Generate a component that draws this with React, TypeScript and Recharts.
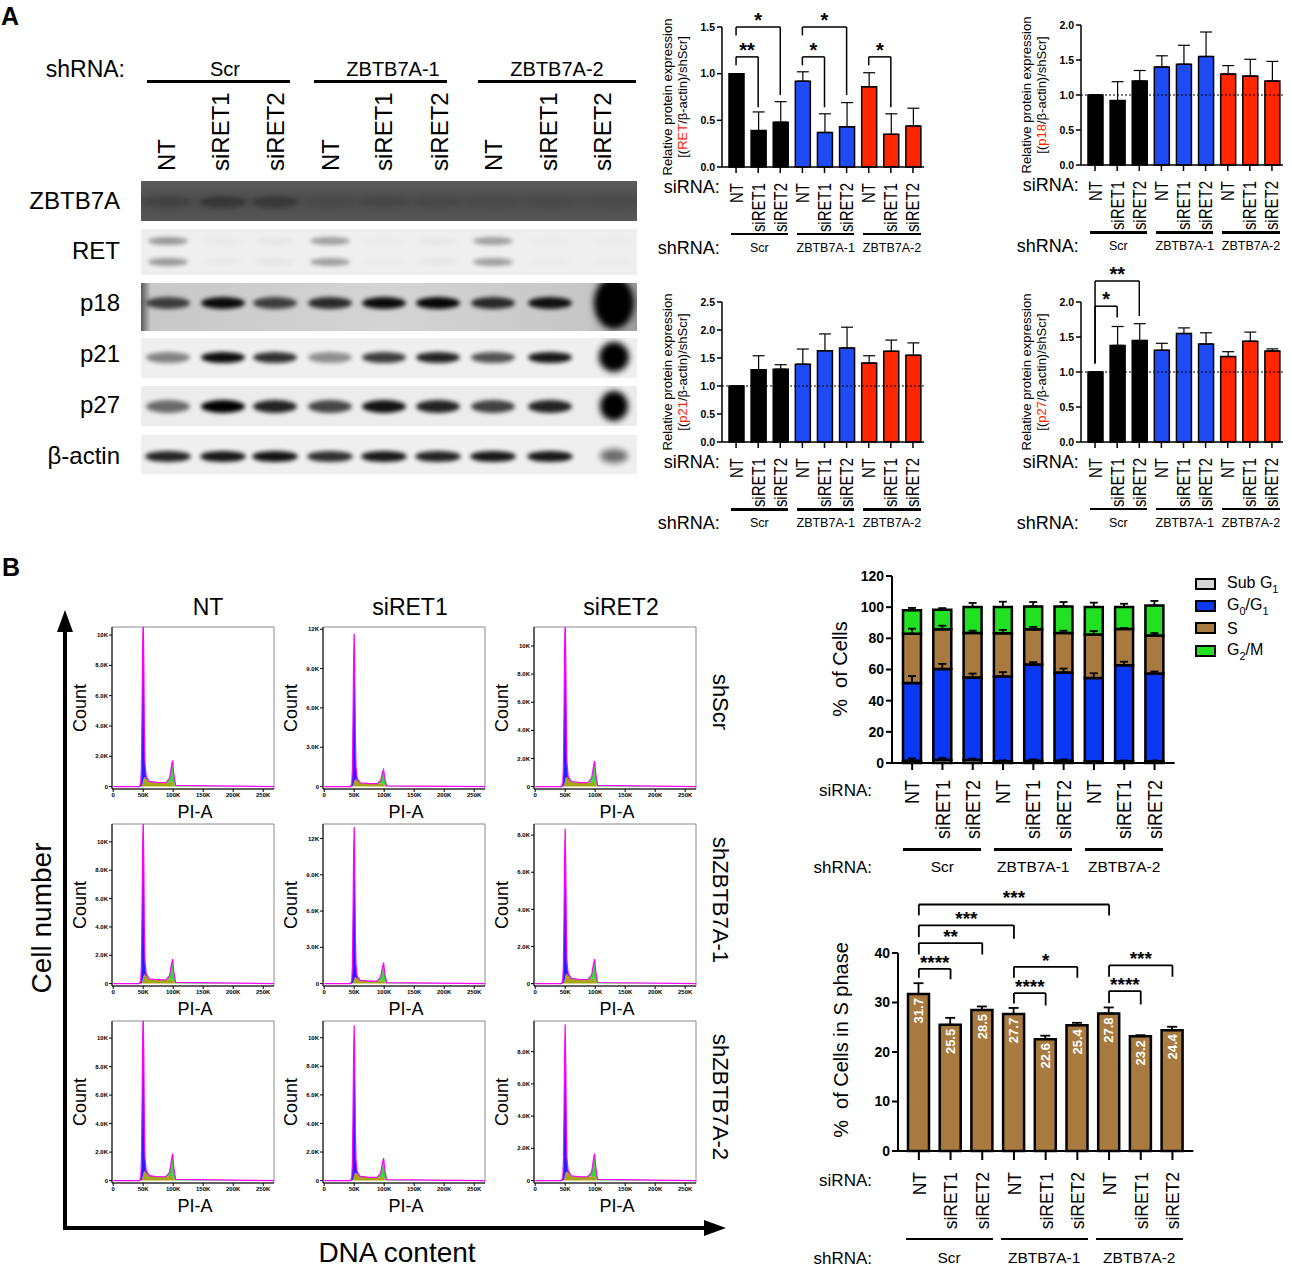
import React from 'react'
import {
  BarChart, Bar, XAxis, YAxis, ErrorBar, ReferenceLine, Cell, LabelList,
  AreaChart, Area, ReferenceArea,
} from 'recharts'

const FONT = '"Liberation Sans", Arial, Helvetica, sans-serif'

// categories
const siRNA = ['NT', 'siRET1', 'siRET2', 'NT', 'siRET1', 'siRET2', 'NT', 'siRET1', 'siRET2']
const shRNA = ['Scr', 'ZBTB7A-1', 'ZBTB7A-2']
const catKeys = ['c0', 'c1', 'c2', 'c3', 'c4', 'c5', 'c6', 'c7', 'c8']
const groupColors = ['#000000', '#1f4bf5', '#ff2600']

// A: western blot, band strength per lane (0..1)
const blotNames = ['ZBTB7A', 'RET', 'p18', 'p21', 'p27', 'β-actin']
const bandZBTB7A = [0.25, 0.55, 0.5, 0.06, 0.12, 0.1, 0.05, 0.06, 0.05]
const bandRET = [0.65, 0.04, 0.06, 0.6, 0.03, 0.05, 0.6, 0.03, 0.03]
const bandP18 = [0.7, 0.95, 0.7, 0.8, 0.95, 0.97, 0.8, 0.92, 1]
const bandP21 = [0.45, 0.95, 0.8, 0.4, 0.75, 0.85, 0.65, 0.9, 1]
const bandP27 = [0.55, 1, 0.85, 0.7, 0.92, 0.85, 0.72, 0.85, 1]
const bandActin = [0.85, 0.9, 0.92, 0.8, 0.9, 0.85, 0.9, 0.9, 0.55]

// A: quantification (mean, SD)
const retMean = [1.0, 0.39, 0.48, 0.92, 0.37, 0.43, 0.86, 0.35, 0.44]
const retSd = [0, 0.2, 0.22, 0.1, 0.2, 0.26, 0.15, 0.22, 0.19]
const p18Mean = [1.0, 0.92, 1.2, 1.4, 1.44, 1.55, 1.3, 1.27, 1.2]
const p18Sd = [0, 0.27, 0.15, 0.16, 0.27, 0.35, 0.12, 0.24, 0.28]
const p21Mean = [1.0, 1.29, 1.3, 1.39, 1.63, 1.68, 1.41, 1.62, 1.55]
const p21Sd = [0, 0.25, 0.08, 0.27, 0.3, 0.37, 0.13, 0.2, 0.22]
const p27Mean = [1.0, 1.38, 1.45, 1.31, 1.55, 1.4, 1.22, 1.44, 1.3]
const p27Sd = [0, 0.27, 0.24, 0.1, 0.08, 0.16, 0.07, 0.13, 0.03]

// significance brackets: a -> b, top, left leg end, right leg end
const retStars = [
  { a: 0, b: 2, y: 1.5, ya: 1.41, yb: 0.77, label: '*' },
  { a: 0, b: 1, y: 1.18, ya: 1.09, yb: 0.64, label: '**' },
  { a: 3, b: 5, y: 1.5, ya: 1.41, yb: 0.77, label: '*' },
  { a: 3, b: 4, y: 1.18, ya: 1.09, yb: 0.64, label: '*' },
  { a: 6, b: 7, y: 1.18, ya: 1.09, yb: 0.64, label: '*' },
]
const p27Stars = [
  { a: 0, b: 2, y: 2.3, ya: 1.12, yb: 1.8, label: '**' },
  { a: 0, b: 1, y: 1.94, ya: 1.12, yb: 1.78, label: '*' },
]

// B: cell cycle distribution (%)
const subG1 = [1.5, 2.0, 2.0, 1.2, 1.5, 1.5, 1.0, 1.2, 1.2]
const subG1Sd = [1.5, 1.3, 0.8, 0.5, 0.8, 0.8, 0.3, 0.4, 0.4]
const g0g1 = [49.8, 58.3, 52.9, 54.3, 61.7, 56.5, 53.6, 61.6, 56.3]
const g0g1Sd = [4.5, 3.3, 2.5, 2.8, 1.5, 2.6, 3.0, 2.2, 1.2]
const sPhase = [31.7, 25.5, 28.5, 27.7, 22.6, 25.4, 27.8, 23.2, 24.4]
const sPhaseSd = [2.2, 1.4, 0.7, 1.2, 0.7, 0.5, 1.2, 0.2, 0.7]
const sStackSd = [3.2, 2.3, 1.5, 2.2, 1.5, 1.5, 2.3, 0.6, 1.5]
const g2m = [15.0, 12.6, 16.7, 16.9, 14.7, 17.1, 17.7, 14.1, 19.1]
const g2mSd = [1.5, 1.0, 2.6, 3.4, 2.8, 2.8, 2.8, 2.1, 3.0]

const sStars = [
  { a: 0, b: 6, y: 49.8, ya: 47.6, yb: 47.6, label: '***' },
  { a: 0, b: 3, y: 45.6, ya: 43.2, yb: 42.9, label: '***' },
  { a: 0, b: 2, y: 42.0, ya: 39.7, yb: 39.7, label: '**' },
  { a: 0, b: 1, y: 36.8, ya: 35.0, yb: 34.7, label: '****' },
  { a: 3, b: 5, y: 37.2, ya: 35.0, yb: 35.0, label: '*' },
  { a: 3, b: 4, y: 31.9, ya: 29.8, yb: 29.4, label: '****' },
  { a: 6, b: 8, y: 37.5, ya: 35.2, yb: 35.2, label: '***' },
  { a: 6, b: 7, y: 32.3, ya: 29.9, yb: 29.6, label: '****' },
]

// B: PI histograms (x in K), panels row by row: shScr, shZBTB7A-1, shZBTB7A-2 x NT, siRET1, siRET2
const flowX = [0, 44, 46, 47, 48, 49, 50, 51, 52, 53, 55, 60, 75, 88, 94, 97, 99, 101, 104, 268]
const flowG1 = [
  [0, 0, 250, 1200, 4600, 8800, 10800, 7600, 3000, 900, 150, 0, 0, 0, 0, 0, 0, 0, 0, 0],
  [0, 0, 250, 1300, 4900, 9300, 11300, 8000, 3200, 950, 150, 0, 0, 0, 0, 0, 0, 0, 0, 0],
  [0, 0, 260, 1350, 5100, 9500, 11600, 8200, 3300, 1000, 160, 0, 0, 0, 0, 0, 0, 0, 0, 0],
  [0, 0, 250, 1300, 4800, 9200, 11200, 7900, 3100, 950, 150, 0, 0, 0, 0, 0, 0, 0, 0, 0],
  [0, 0, 280, 1450, 5500, 10400, 12600, 8900, 3500, 1050, 170, 0, 0, 0, 0, 0, 0, 0, 0, 0],
  [0, 0, 180, 950, 3500, 6600, 8000, 5600, 2200, 650, 110, 0, 0, 0, 0, 0, 0, 0, 0, 0],
  [0, 0, 250, 1300, 4900, 9300, 11400, 8000, 3200, 950, 150, 0, 0, 0, 0, 0, 0, 0, 0, 0],
  [0, 0, 240, 1200, 4500, 8600, 10500, 7400, 2900, 900, 140, 0, 0, 0, 0, 0, 0, 0, 0, 0],
  [0, 0, 210, 1100, 4000, 7600, 9300, 6500, 2600, 780, 130, 0, 0, 0, 0, 0, 0, 0, 0, 0],
]
const flowS = [
  [0, 0, 0, 20, 80, 220, 420, 560, 620, 600, 520, 340, 260, 270, 310, 320, 280, 130, 0, 0],
  [0, 0, 0, 20, 80, 200, 380, 500, 560, 540, 460, 290, 220, 230, 260, 270, 240, 110, 0, 0],
  [0, 0, 0, 20, 90, 240, 460, 620, 680, 660, 560, 360, 280, 290, 330, 340, 300, 140, 0, 0],
  [0, 0, 0, 20, 80, 220, 430, 580, 640, 620, 530, 340, 260, 270, 310, 320, 280, 130, 0, 0],
  [0, 0, 0, 20, 80, 200, 360, 480, 520, 500, 440, 270, 200, 210, 240, 250, 220, 100, 0, 0],
  [0, 0, 0, 15, 70, 180, 360, 480, 520, 500, 440, 280, 220, 230, 260, 270, 240, 110, 0, 0],
  [0, 0, 0, 20, 90, 240, 450, 600, 660, 640, 550, 350, 270, 280, 320, 330, 290, 140, 0, 0],
  [0, 0, 0, 20, 80, 200, 380, 500, 560, 540, 460, 290, 220, 230, 260, 270, 240, 110, 0, 0],
  [0, 0, 0, 15, 75, 200, 390, 520, 570, 550, 480, 300, 230, 240, 270, 280, 250, 115, 0, 0],
]
const flowG2 = [
  [0, 0, 0, 0, 0, 0, 0, 0, 0, 0, 0, 0, 0, 0, 250, 1000, 1450, 700, 80, 0],
  [0, 0, 0, 0, 0, 0, 0, 0, 0, 0, 0, 0, 0, 0, 200, 800, 1050, 500, 60, 0],
  [0, 0, 0, 0, 0, 0, 0, 0, 0, 0, 0, 0, 0, 0, 280, 1050, 1520, 750, 90, 0],
  [0, 0, 0, 0, 0, 0, 0, 0, 0, 0, 0, 0, 0, 0, 250, 1000, 1450, 700, 80, 0],
  [0, 0, 0, 0, 0, 0, 0, 0, 0, 0, 0, 0, 0, 0, 300, 1100, 1520, 720, 80, 0],
  [0, 0, 0, 0, 0, 0, 0, 0, 0, 0, 0, 0, 0, 0, 200, 750, 1080, 520, 60, 0],
  [0, 0, 0, 0, 0, 0, 0, 0, 0, 0, 0, 0, 0, 0, 280, 1100, 1600, 780, 90, 0],
  [0, 0, 0, 0, 0, 0, 0, 0, 0, 0, 0, 0, 0, 0, 240, 950, 1350, 650, 70, 0],
  [0, 0, 0, 0, 0, 0, 0, 0, 0, 0, 0, 0, 0, 0, 250, 1000, 1430, 700, 80, 0],
]
const flowYMax = [10530, 12170, 11350, 11260, 13200, 8600, 11200, 11170, 9900]
const flowYStep = [2000, 3000, 2000, 2000, 3000, 2000, 2000, 2000, 2000]
const flowYTop = [10000, 12000, 10000, 10000, 12000, 8000, 10000, 10000, 8000]
const flowXTicks = [0, 50, 100, 150, 200, 250]
const colTitles = ['NT', 'siRET1', 'siRET2']
const rowTitles = ['shScr', 'shZBTB7A-1', 'shZBTB7A-2']

// layout
const laneLabelX = [167, 221, 276, 331, 384, 440, 494, 549, 603]
const laneX = [168, 223, 275, 330, 384, 438, 493, 550, 614]
const blotLayout = [
  { top: 181, h: 40, bg: 'linear-gradient(180deg,#5c5c5c,#4b4b4b 50%,#575757)', color: '#262626', ys: [21], bh: 12, bw: 46, big: 0, bigW: 0 },
  { top: 229, h: 46, bg: '#efefef', color: '#6a6a6a', ys: [12, 33], bh: 8, bw: 40, big: 0, bigW: 0 },
  { top: 283, h: 48, bg: 'linear-gradient(90deg,#5a5a5a 0%,#c8c8c8 2%,#d4d4d4 50%,#c6c6c6 90%,#9a9a9a 100%)', color: '#000', ys: [20], bh: 12, bw: 44, big: 52, bigW: 40 },
  { top: 338, h: 40, bg: '#efefef', color: '#000', ys: [19], bh: 11, bw: 44, big: 30, bigW: 30 },
  { top: 386, h: 40, bg: '#ececec', color: '#000', ys: [20], bh: 13, bw: 44, big: 30, bigW: 28 },
  { top: 435, h: 39, bg: '#efefef', color: '#000', ys: [21], bh: 11, bw: 46, big: 14, bigW: 28 },
]
const blotBands = [bandZBTB7A, bandRET, bandP18, bandP21, bandP27, bandActin]
const blotLabelY = [201, 251, 303, 354, 405, 456]

function Txt({ x, y, size, children, align = 'center', rotate = 0, weight = 400, color = '#000' }: any) {
  const tx = align === 'center' ? '-50%' : align === 'right' ? '-100%' : '0'
  return (
    <div style={{
      position: 'absolute', left: x, top: y, fontSize: size, fontWeight: weight, color,
      whiteSpace: 'nowrap', lineHeight: 1, transform: `translate(${tx}, -50%) rotate(${rotate}deg)`,
    }}>{children}</div>
  )
}

function UpText({ x, bottom, size, children }: any) {
  return (
    <div style={{
      position: 'absolute', left: x, top: bottom, fontSize: size, lineHeight: 1, whiteSpace: 'nowrap',
      transformOrigin: '0 0', transform: 'rotate(-90deg) translateY(-50%)',
    }}>{children}</div>
  )
}

function SiTick(props: any) {
  const { x, y, payload, fontSize, stretch = 1 } = props
  const label = siRNA[catKeys.indexOf(payload.value)]
  return (
    <text x={0} y={0} dy="0.36em" transform={`translate(${x} ${y}) rotate(-90) scale(1 ${stretch})`} textAnchor="end"
      fontSize={fontSize} fontFamily={FONT} fill="#000">{label}</text>
  )
}

function bracket(b: any, i: number, fontSize: number, sw: number) {
  const line = { stroke: '#000', strokeWidth: sw, ifOverflow: 'visible' as const }
  return [
    <ReferenceLine key={`h${i}`} segment={[{ x: catKeys[b.a], y: b.y }, { x: catKeys[b.b], y: b.y }]} {...line}
      label={{ value: b.label, position: 'top', offset: 0, fontSize, fontWeight: 700, fill: '#000', fontFamily: FONT }} />,
    <ReferenceLine key={`l${i}`} segment={[{ x: catKeys[b.a], y: b.y }, { x: catKeys[b.a], y: b.ya }]} {...line} />,
    <ReferenceLine key={`r${i}`} segment={[{ x: catKeys[b.b], y: b.y }, { x: catKeys[b.b], y: b.yb }]} {...line} />,
  ]
}

function Groups({ centers, lineY, labelY, before, after, fontSize, lineH }: any) {
  return (
    <>
      {shRNA.map((g, k) => {
        const a = centers[k * 3], b = centers[k * 3 + 2]
        return (
          <React.Fragment key={g}>
            <div style={{ position: 'absolute', left: a - before, top: lineY, width: b - a + before + after, height: lineH, background: '#000' }} />
            <Txt x={(a + b) / 2 + (after - before) / 2} y={labelY} size={fontSize}>{g}</Txt>
          </React.Fragment>
        )
      })}
    </>
  )
}

const A_W = 202
const A_PAD = 3
const A_BAND = (A_W - A_PAD) / 9

function ExprChart({ plotLeft, plotTop, mean, sd, max, ticks, protein, stars, dotted }: any) {
  const yw = 32, mt = 48, mr = 8, xh = 80, ph = 140
  const data = catKeys.map((k, i) => ({ key: k, mean: mean[i], err: [0, sd[i]] }))
  const centers = catKeys.map((_, i) => plotLeft + A_PAD + A_BAND * (i + 0.5))
  return (
    <>
      <div style={{ position: 'absolute', left: plotLeft - yw, top: plotTop - mt }}>
        <BarChart width={yw + A_W + mr} height={mt + ph + xh} data={data} barSize={15}
          margin={{ top: mt, right: mr, bottom: 0, left: 0 }}>
          <XAxis dataKey="key" padding={{ left: A_PAD, right: 0 }} interval={0} height={xh}
            tickSize={6} tickMargin={10} stroke="#000" strokeWidth={1.5}
            tick={(p: any) => <SiTick {...p} fontSize={15} stretch={1.2} />} />
          <YAxis type="number" domain={[0, max]} ticks={ticks} width={yw} stroke="#000" strokeWidth={1.5}
            tickSize={5} tickFormatter={(v: number) => v.toFixed(1)}
            tick={{ fontSize: 10.5, fontWeight: 700, fill: '#000', fontFamily: FONT }} />
          {dotted && <ReferenceLine y={1} stroke="#000" strokeWidth={1.2} strokeDasharray="2 2" />}
          <Bar dataKey="mean" stroke="#000" strokeWidth={1.5} isAnimationActive={false}>
            {data.map((_, i) => <Cell key={i} fill={groupColors[Math.floor(i / 3)]} />)}
            <ErrorBar dataKey="err" width={6} stroke="#000" strokeWidth={1.2} direction="y" />
          </Bar>
          {stars.map((b: any, i: number) => bracket(b, i, 20, 1.5))}
        </BarChart>
      </div>
      <Txt x={plotLeft - 55} y={plotTop + 70} size={13} rotate={-90}>Relative protein expression</Txt>
      <Txt x={plotLeft - 40} y={plotTop + 70} size={13} rotate={-90}>
        [(<span style={{ color: '#ff2600' }}>{protein}</span>/β-actin)/shScr]
      </Txt>
      <Txt x={plotLeft - 2} y={plotTop + 160} size={18} align="right">siRNA:</Txt>
      <Txt x={plotLeft - 2} y={plotTop + 221} size={18} align="right">shRNA:</Txt>
      <Groups centers={centers} lineY={plotTop + 206} labelY={plotTop + 221} before={5} after={8} fontSize={12.5} lineH={2.5} />
    </>
  )
}

function FlowPanel({ idx, left, top }: any) {
  const yw = 26, mt = 2, mr = 4, xh = 14, W = 162, H = 162
  const yMax = flowYMax[idx]
  const yMin = -yMax * 0.015
  const data = flowX.map((x, i) => ({ x, g1: flowG1[idx][i], s: flowS[idx][i], g2: flowG2[idx][i] }))
  const yTicks: number[] = []
  for (let v = 0; v <= flowYTop[idx]; v += flowYStep[idx]) yTicks.push(v)
  const fmtY = (v: number) => (v === 0 ? '0' : v >= 10000 ? `${v / 1000}K` : `${(v / 1000).toFixed(1)}K`)
  return (
    <>
      <div style={{ position: 'absolute', left: left - yw, top: top - mt }}>
        <AreaChart width={yw + W + mr} height={mt + H + xh} data={data} margin={{ top: mt, right: mr, bottom: 0, left: 0 }}>
          <XAxis type="number" dataKey="x" domain={[-2, 268]} allowDataOverflow ticks={flowXTicks}
            tickFormatter={(v: number) => (v === 0 ? '0' : `${v}K`)} height={xh} tickSize={3} tickMargin={1}
            stroke="#000" tick={{ fontSize: 6, fontWeight: 700, fill: '#000', fontFamily: FONT }} />
          <YAxis type="number" domain={[yMin, yMax]} allowDataOverflow ticks={yTicks} tickFormatter={fmtY}
            width={yw} tickSize={3} tickMargin={1} stroke="#000"
            tick={{ fontSize: 6, fontWeight: 700, fill: '#000', fontFamily: FONT }} />
          <ReferenceArea x1={-2} x2={268} y1={yMin} y2={yMax} fill="none" stroke="#8a8a8a" strokeWidth={1} />
          <Area type="linear" dataKey="s" stackId="f" fill="#a6a614" fillOpacity={1} stroke="none" isAnimationActive={false} />
          <Area type="linear" dataKey="g1" stackId="f" fill="#2020ff" fillOpacity={1} stroke="none" isAnimationActive={false} />
          <Area type="linear" dataKey="g2" stackId="f" fill="#2ee02e" fillOpacity={1} stroke="#ff00ff" strokeWidth={1.2} isAnimationActive={false} />
        </AreaChart>
      </div>
      <Txt x={left - 32} y={top + 81} size={18} rotate={-90}>Count</Txt>
      <Txt x={left + 83} y={top + 185} size={18}>PI-A</Txt>
    </>
  )
}

const flowLefts = [112, 323, 534]
const flowTops = [627, 824, 1021]

function CycleChart() {
  const plotLeft = 891.7, plotTop = 575.7, W = 282.7, H = 187, yw = 45, mt = 10, mr = 10, xh = 90
  const band = (W - 10) / 9
  const centers = catKeys.map((_, i) => plotLeft + 5 + band * (i + 0.5))
  const data = catKeys.map((k, i) => ({
    key: k,
    sub: subG1[i], subE: [0, subG1Sd[i]],
    g1: g0g1[i], g1E: [0, g0g1Sd[i]],
    s: sPhase[i], sE: [0, sStackSd[i]],
    g2: g2m[i], g2E: [0, g2mSd[i]],
  }))
  const seg = { stackId: 'c', stroke: '#000', strokeWidth: 2.5, isAnimationActive: false }
  const eb = { width: 4, stroke: '#000', strokeWidth: 1.8, direction: 'y' as const }
  return (
    <>
      <div style={{ position: 'absolute', left: plotLeft - yw, top: plotTop - mt }}>
        <BarChart width={yw + W + mr} height={mt + H + xh} data={data} barSize={18} margin={{ top: mt, right: mr, bottom: 0, left: 0 }}>
          <XAxis dataKey="key" padding={{ left: 5, right: 5 }} interval={0} height={xh} tickSize={7} tickMargin={10}
            stroke="#000" strokeWidth={2} tick={(p: any) => <SiTick {...p} fontSize={18} stretch={1.1} />} />
          <YAxis type="number" domain={[0, 120]} ticks={[0, 20, 40, 60, 80, 100, 120]} width={yw} tickSize={6}
            stroke="#000" strokeWidth={2} tick={{ fontSize: 14, fontWeight: 700, fill: '#000', fontFamily: FONT }} />
          <Bar dataKey="sub" fill="#d6d6d6" {...seg}><ErrorBar dataKey="subE" {...eb} /></Bar>
          <Bar dataKey="g1" fill="#0a38f5" {...seg}><ErrorBar dataKey="g1E" {...eb} /></Bar>
          <Bar dataKey="s" fill="#a87a40" {...seg}><ErrorBar dataKey="sE" {...eb} /></Bar>
          <Bar dataKey="g2" fill="#22e022" {...seg}><ErrorBar dataKey="g2E" {...eb} /></Bar>
        </BarChart>
      </div>
      <Txt x={840} y={669} size={20} rotate={-90}>%&nbsp; of Cells</Txt>
      <Txt x={872} y={790} size={17} align="right">siRNA:</Txt>
      <Txt x={872} y={867} size={17} align="right">shRNA:</Txt>
      <Groups centers={centers} lineY={848} labelY={867} before={8.5} after={9} fontSize={15.5} lineH={2.5} />
      {[
        { c: '#d6d6d6', y: 584, t: <>Sub G<sub style={{ fontSize: 11 }}>1</sub></> },
        { c: '#0a38f5', y: 606, t: <>G<sub style={{ fontSize: 11 }}>0</sub>/G<sub style={{ fontSize: 11 }}>1</sub></> },
        { c: '#a87a40', y: 628, t: <>S</> },
        { c: '#22e022', y: 651, t: <>G<sub style={{ fontSize: 11 }}>2</sub>/M</> },
      ].map((l, i) => (
        <React.Fragment key={i}>
          <div style={{ position: 'absolute', left: 1195, top: l.y - 6, width: 17, height: 8, background: l.c, border: '2.5px solid #000' }} />
          <Txt x={1227} y={l.y + 1} size={16} align="left">{l.t}</Txt>
        </React.Fragment>
      ))}
    </>
  )
}

function SLabel(p: any) {
  const x = p.x ?? p.viewBox?.x, y = p.y ?? p.viewBox?.y, w = p.width ?? p.viewBox?.width
  const cx = x + w / 2
  const ty = y + 4
  return (
    <text x={cx} y={ty} dy="0.36em" transform={`rotate(-90 ${cx} ${ty})`} textAnchor="end"
      fill="#fff" fontSize={13} fontWeight={700} fontFamily={FONT}>{Number(p.value).toFixed(1)}</text>
  )
}

function SPhaseChart() {
  const plotLeft = 898.3, plotTop = 952.7, W = 295.3, H = 198, yw = 45, mt = 72, mr = 10, xh = 90
  const band = (W - 10) / 9
  const centers = catKeys.map((_, i) => plotLeft + 5 + band * (i + 0.5))
  const data = catKeys.map((k, i) => ({ key: k, s: sPhase[i], err: [0, sPhaseSd[i]] }))
  return (
    <>
      <div style={{ position: 'absolute', left: plotLeft - yw, top: plotTop - mt }}>
        <BarChart width={yw + W + mr} height={mt + H + xh} data={data} barSize={21} margin={{ top: mt, right: mr, bottom: 0, left: 0 }}>
          <XAxis dataKey="key" padding={{ left: 5, right: 5 }} interval={0} height={xh} tickSize={9} tickMargin={12}
            stroke="#000" strokeWidth={2} tick={(p: any) => <SiTick {...p} fontSize={17.5} stretch={1.1} />} />
          <YAxis type="number" domain={[0, 40]} ticks={[0, 10, 20, 30, 40]} width={yw} tickSize={6}
            stroke="#000" strokeWidth={2} tick={{ fontSize: 14, fontWeight: 700, fill: '#000', fontFamily: FONT }} />
          <Bar dataKey="s" fill="#a87a40" stroke="#000" strokeWidth={2.5} isAnimationActive={false}>
            <ErrorBar dataKey="err" width={5} stroke="#000" strokeWidth={1.8} direction="y" />
            <LabelList dataKey="s" content={SLabel} />
          </Bar>
          {sStars.map((b, i) => bracket(b, i, 19, 1.8))}
        </BarChart>
      </div>
      <Txt x={841} y={1040} size={20} rotate={-90}>%&nbsp; of Cells in S phase</Txt>
      <Txt x={872} y={1180} size={17} align="right">siRNA:</Txt>
      <Txt x={872} y={1258} size={17} align="right">shRNA:</Txt>
      <Groups centers={centers} lineY={1237.5} labelY={1258} before={13.5} after={10} fontSize={15.5} lineH={2.5} />
    </>
  )
}

function Blot() {
  return (
    <>
      <Txt x={125} y={69} size={23} align="right">shRNA:</Txt>
      {[{ t: 'Scr', x: 225, a: 147, b: 290 }, { t: 'ZBTB7A-1', x: 393, a: 314, b: 447 }, { t: 'ZBTB7A-2', x: 557, a: 478, b: 636 }].map(g => (
        <React.Fragment key={g.t}>
          <Txt x={g.x} y={69} size={20}>{g.t}</Txt>
          <div style={{ position: 'absolute', left: g.a, top: 80, width: g.b - g.a, height: 3, background: '#000' }} />
        </React.Fragment>
      ))}
      {siRNA.map((s, i) => <UpText key={i} x={laneLabelX[i]} bottom={171} size={24}>{s}</UpText>)}
      {blotLayout.map((row, r) => (
        <div key={r} style={{ position: 'absolute', left: 141, top: row.top, width: 496, height: row.h, background: row.bg, overflow: 'hidden' }}>
          {blotBands[r].map((v, i) => row.ys.map((by, j) => {
            const big = row.big > 0 && i === 8
            const h = big ? row.big : row.bh
            const w = big ? row.bigW : row.bw
            return (
              <div key={`${i}-${j}`} style={{
                position: 'absolute', left: laneX[i] - 141 - w / 2, top: by - h / 2, width: w, height: h,
                borderRadius: '50%', background: row.color, opacity: v, filter: big ? 'blur(3px)' : 'blur(2px)',
              }} />
            )
          }))}
        </div>
      ))}
      {blotNames.map((n, i) => <Txt key={n} x={120} y={blotLabelY[i]} size={24} align="right">{n}</Txt>)}
    </>
  )
}

export default function App() {
  return (
    <div style={{ position: 'absolute', left: 0, top: 0, width: 1292, height: 1267, background: '#fff', fontFamily: FONT, overflow: 'hidden', color: '#000' }}>
      <style>{'.recharts-surface{overflow:visible}'}</style>
      <Txt x={10} y={16} size={25} weight={700}>A</Txt>
      <Txt x={11} y={567} size={25} weight={700}>B</Txt>

      <Blot />

      <ExprChart plotLeft={721.7} plotTop={26.7} mean={retMean} sd={retSd} max={1.5} ticks={[0, 0.5, 1, 1.5]} protein="RET" stars={retStars} dotted={false} />
      <ExprChart plotLeft={1080.7} plotTop={25} mean={p18Mean} sd={p18Sd} max={2} ticks={[0, 0.5, 1, 1.5, 2]} protein="p18" stars={[]} dotted />
      <ExprChart plotLeft={721.7} plotTop={302.3} mean={p21Mean} sd={p21Sd} max={2.5} ticks={[0, 0.5, 1, 1.5, 2, 2.5]} protein="p21" stars={[]} dotted />
      <ExprChart plotLeft={1080.7} plotTop={301.7} mean={p27Mean} sd={p27Sd} max={2} ticks={[0, 0.5, 1, 1.5, 2]} protein="p27" stars={p27Stars} dotted />

      {colTitles.map((t, c) => <Txt key={t} x={[208, 410, 621][c]} y={607} size={23}>{t}</Txt>)}
      {rowTitles.map((t, r) => <Txt key={t} x={720} y={[702, 900, 1097][r]} size={22} rotate={90}>{t}</Txt>)}
      {flowTops.map((top, r) => flowLefts.map((left, c) => (
        <FlowPanel key={`${r}-${c}`} idx={r * 3 + c} left={left} top={top} />
      )))}
      <svg style={{ position: 'absolute', left: 0, top: 0 }} width={1292} height={1267}>
        <line x1={65} y1={1230} x2={65} y2={628} stroke="#000" strokeWidth={4} />
        <polygon points="65,610 57,632 73,632" fill="#000" />
        <line x1={63} y1={1228} x2={706} y2={1228} stroke="#000" strokeWidth={4} />
        <polygon points="726,1228 704,1220 704,1236" fill="#000" />
      </svg>
      <Txt x={42} y={918} size={28} rotate={-90}>Cell number</Txt>
      <Txt x={397} y={1253} size={28}>DNA content</Txt>

      <CycleChart />
      <SPhaseChart />
    </div>
  )
}
